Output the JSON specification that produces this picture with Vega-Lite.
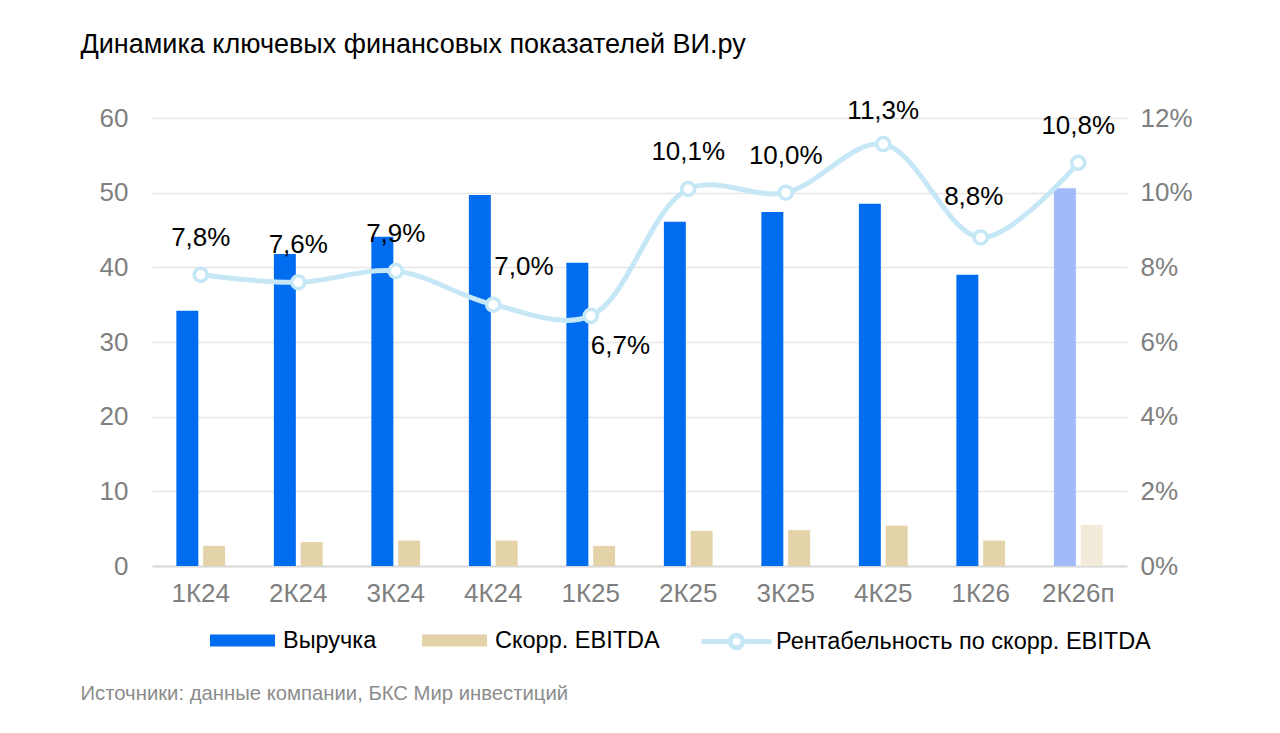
{
  "$schema": "https://vega.github.io/schema/vega-lite/v6.json",
  "width": 975,
  "height": 448,
  "autosize": {"type": "none"},
  "padding": {"left": 152, "top": 118, "right": 153, "bottom": 167},
  "background": "white",
  "config": {
    "font": "Liberation Sans",
    "view": {"stroke": null},
    "locale": {"number": {"decimal": ",", "thousands": " ", "grouping": [3], "currency": ["", " ₽"]}},
    "axis": {"labelFont": "Liberation Sans", "titleFont": "Liberation Sans"},
    "legend": {"labelFont": "Liberation Sans"}
  },
  "datasets": {
    "bars": [
      {"q": "1К24", "s": "Выручка", "k": "Выручка", "v": 34.2},
      {"q": "1К24", "s": "Скорр. EBITDA", "k": "Скорр. EBITDA", "v": 2.7},
      {"q": "2К24", "s": "Выручка", "k": "Выручка", "v": 41.8},
      {"q": "2К24", "s": "Скорр. EBITDA", "k": "Скорр. EBITDA", "v": 3.2},
      {"q": "3К24", "s": "Выручка", "k": "Выручка", "v": 44.1},
      {"q": "3К24", "s": "Скорр. EBITDA", "k": "Скорр. EBITDA", "v": 3.4},
      {"q": "4К24", "s": "Выручка", "k": "Выручка", "v": 49.7},
      {"q": "4К24", "s": "Скорр. EBITDA", "k": "Скорр. EBITDA", "v": 3.4},
      {"q": "1К25", "s": "Выручка", "k": "Выручка", "v": 40.6},
      {"q": "1К25", "s": "Скорр. EBITDA", "k": "Скорр. EBITDA", "v": 2.7},
      {"q": "2К25", "s": "Выручка", "k": "Выручка", "v": 46.1},
      {"q": "2К25", "s": "Скорр. EBITDA", "k": "Скорр. EBITDA", "v": 4.7},
      {"q": "3К25", "s": "Выручка", "k": "Выручка", "v": 47.4},
      {"q": "3К25", "s": "Скорр. EBITDA", "k": "Скорр. EBITDA", "v": 4.8},
      {"q": "4К25", "s": "Выручка", "k": "Выручка", "v": 48.5},
      {"q": "4К25", "s": "Скорр. EBITDA", "k": "Скорр. EBITDA", "v": 5.4},
      {"q": "1К26", "s": "Выручка", "k": "Выручка", "v": 39.0},
      {"q": "1К26", "s": "Скорр. EBITDA", "k": "Скорр. EBITDA", "v": 3.4},
      {"q": "2К26п", "s": "Выручка", "k": "Выручка (прогноз)", "v": 50.6},
      {"q": "2К26п", "s": "Скорр. EBITDA", "k": "Скорр. EBITDA (прогноз)", "v": 5.5}
    ],
    "margin": [
      {"q": "1К24", "n": "Рентабельность по скорр. EBITDA", "m": 0.078, "pos": "above"},
      {"q": "2К24", "n": "Рентабельность по скорр. EBITDA", "m": 0.076, "pos": "above"},
      {"q": "3К24", "n": "Рентабельность по скорр. EBITDA", "m": 0.079, "pos": "above"},
      {"q": "4К24", "n": "Рентабельность по скорр. EBITDA", "m": 0.070, "pos": "right"},
      {"q": "1К25", "n": "Рентабельность по скорр. EBITDA", "m": 0.067, "pos": "below"},
      {"q": "2К25", "n": "Рентабельность по скорр. EBITDA", "m": 0.101, "pos": "above"},
      {"q": "3К25", "n": "Рентабельность по скорр. EBITDA", "m": 0.100, "pos": "above"},
      {"q": "4К25", "n": "Рентабельность по скорр. EBITDA", "m": 0.113, "pos": "top"},
      {"q": "1К26", "n": "Рентабельность по скорр. EBITDA", "m": 0.088, "pos": "left"},
      {"q": "2К26п", "n": "Рентабельность по скорр. EBITDA", "m": 0.108, "pos": "above"}
    ]
  },
  "layer": [
    {
      "data": {"name": "bars"},
      "mark": {"type": "bar"},
      "encoding": {
        "x": {
          "field": "q", "type": "nominal",
          "sort": ["1К24","2К24","3К24","4К24","1К25","2К25","3К25","4К25","1К26","2К26п"],
          "scale": {"paddingInner": 0.5, "paddingOuter": 0.25},
          "axis": {
            "labelAngle": 0, "labelFontSize": 26, "labelColor": "#7F7F7F", "labelPadding": 14,
            "ticks": false, "domainColor": "#D9D9D9", "domainWidth": 2, "grid": false,
            "title": "Источники: данные компании, БКС Мир инвестиций",
            "titleFontSize": 20.3, "titleFontWeight": "normal", "titleColor": "#8C8C8C",
            "titleAnchor": "start", "titleAlign": "left", "titleBaseline": "middle",
            "titleX": -72, "titleY": 127
          }
        },
        "xOffset": {
          "field": "s", "type": "nominal", "sort": ["Выручка", "Скорр. EBITDA"],
          "scale": {"paddingInner": 0.18, "paddingOuter": 0}
        },
        "y": {
          "field": "v", "type": "quantitative",
          "scale": {"domain": [0, 60], "nice": false},
          "axis": {
            "values": [0, 10, 20, 30, 40, 50, 60],
            "labelFontSize": 26, "labelColor": "#7F7F7F", "labelPadding": 24,
            "ticks": false, "domain": false, "gridColor": "#E6E6E6", "gridWidth": 1.5,
            "title": "Динамика ключевых финансовых показателей ВИ.ру",
            "titleFontSize": 27, "titleFontWeight": "normal", "titleColor": "#000000",
            "titleAngle": 0, "titleAnchor": "start", "titleAlign": "left", "titleBaseline": "middle",
            "titleX": -72, "titleY": -74
          }
        },
        "fill": {
          "field": "k", "type": "nominal",
          "scale": {
            "domain": ["Выручка", "Скорр. EBITDA", "Выручка (прогноз)", "Скорр. EBITDA (прогноз)"],
            "range": ["#006DF0", "#E4D2A9", "#A3BAF9", "#F3EBDA"]
          },
          "legend": {
            "values": ["Выручка", "Скорр. EBITDA"],
            "title": null, "orient": "none", "direction": "horizontal",
            "legendX": 58, "legendY": 490, "padding": 0,
            "symbolType": "M-1,-0.185H1V0.185H-1Z", "symbolSize": 4225, "symbolStrokeWidth": 0,
            "labelFontSize": 23.5, "labelColor": "#000000", "labelOffset": 8, "columnPadding": 45,
            "labelLimit": 400
          }
        }
      }
    },
    {
      "data": {"name": "margin"},
      "layer": [
        {
          "mark": {"type": "line", "interpolate": "catmull-rom", "strokeWidth": 5},
          "encoding": {
            "x": {"field": "q", "type": "nominal", "sort": ["1К24","2К24","3К24","4К24","1К25","2К25","3К25","4К25","1К26","2К26п"]},
            "y": {
              "field": "m", "type": "quantitative",
              "scale": {"domain": [0, 0.12], "nice": false},
              "axis": {
                "orient": "right", "values": [0, 0.02, 0.04, 0.06, 0.08, 0.1, 0.12], "format": ".0%",
                "labelFontSize": 26, "labelColor": "#7F7F7F", "labelPadding": 13,
                "ticks": false, "domain": false, "grid": false, "title": null
              }
            },
            "stroke": {
              "field": "n", "type": "nominal",
              "scale": {"range": ["#C5E7F6"]},
              "legend": {
                "title": null, "orient": "none", "direction": "horizontal",
                "legendX": 547, "legendY": 486, "padding": 0,
                "symbolType": "M-1,0H-0.18M0.18,0H1M-0.18,0A0.18,0.18,0,1,1,0.18,0A0.18,0.18,0,1,1,-0.18,0Z",
                "symbolSize": 4900, "symbolStrokeWidth": 5, "symbolFillColor": "#FFFFFF",
                "labelFontSize": 23.5, "labelColor": "#000000", "labelOffset": 2, "labelLimit": 600
              }
            }
          }
        },
        {
          "mark": {"type": "point", "filled": true, "fill": "#FFFFFF", "size": 170, "strokeWidth": 3.5, "opacity": 1},
          "encoding": {
            "x": {"field": "q", "type": "nominal", "sort": ["1К24","2К24","3К24","4К24","1К25","2К25","3К25","4К25","1К26","2К26п"]},
            "y": {"field": "m", "type": "quantitative"},
            "stroke": {"field": "n", "type": "nominal"}
          }
        },
        {
          "transform": [{"filter": "datum.pos === 'above'"}],
          "mark": {"type": "text", "fontSize": 26, "color": "#000000", "baseline": "middle", "align": "center", "dy": -37},
          "encoding": {
            "x": {"field": "q", "type": "nominal", "sort": ["1К24","2К24","3К24","4К24","1К25","2К25","3К25","4К25","1К26","2К26п"]},
            "y": {"field": "m", "type": "quantitative"},
            "text": {"field": "m", "type": "quantitative", "format": ".1%"}
          }
        },
        {
          "transform": [{"filter": "datum.pos === 'top'"}],
          "mark": {"type": "text", "fontSize": 26, "color": "#000000", "baseline": "middle", "align": "center", "dy": -33},
          "encoding": {
            "x": {"field": "q", "type": "nominal", "sort": ["1К24","2К24","3К24","4К24","1К25","2К25","3К25","4К25","1К26","2К26п"]},
            "y": {"field": "m", "type": "quantitative"},
            "text": {"field": "m", "type": "quantitative", "format": ".1%"}
          }
        },
        {
          "transform": [{"filter": "datum.pos === 'left'"}],
          "mark": {"type": "text", "fontSize": 26, "color": "#000000", "baseline": "middle", "align": "center", "dx": -7, "dy": -40},
          "encoding": {
            "x": {"field": "q", "type": "nominal", "sort": ["1К24","2К24","3К24","4К24","1К25","2К25","3К25","4К25","1К26","2К26п"]},
            "y": {"field": "m", "type": "quantitative"},
            "text": {"field": "m", "type": "quantitative", "format": ".1%"}
          }
        },
        {
          "transform": [{"filter": "datum.pos === 'right'"}],
          "mark": {"type": "text", "fontSize": 26, "color": "#000000", "baseline": "middle", "align": "left", "dx": 1, "dy": -38},
          "encoding": {
            "x": {"field": "q", "type": "nominal", "sort": ["1К24","2К24","3К24","4К24","1К25","2К25","3К25","4К25","1К26","2К26п"]},
            "y": {"field": "m", "type": "quantitative"},
            "text": {"field": "m", "type": "quantitative", "format": ".1%"}
          }
        },
        {
          "transform": [{"filter": "datum.pos === 'below'"}],
          "mark": {"type": "text", "fontSize": 26, "color": "#000000", "baseline": "middle", "align": "left", "dx": 0, "dy": 30},
          "encoding": {
            "x": {"field": "q", "type": "nominal", "sort": ["1К24","2К24","3К24","4К24","1К25","2К25","3К25","4К25","1К26","2К26п"]},
            "y": {"field": "m", "type": "quantitative"},
            "text": {"field": "m", "type": "quantitative", "format": ".1%"}
          }
        }
      ]
    }
  ],
  "resolve": {"scale": {"y": "independent"}}
}
